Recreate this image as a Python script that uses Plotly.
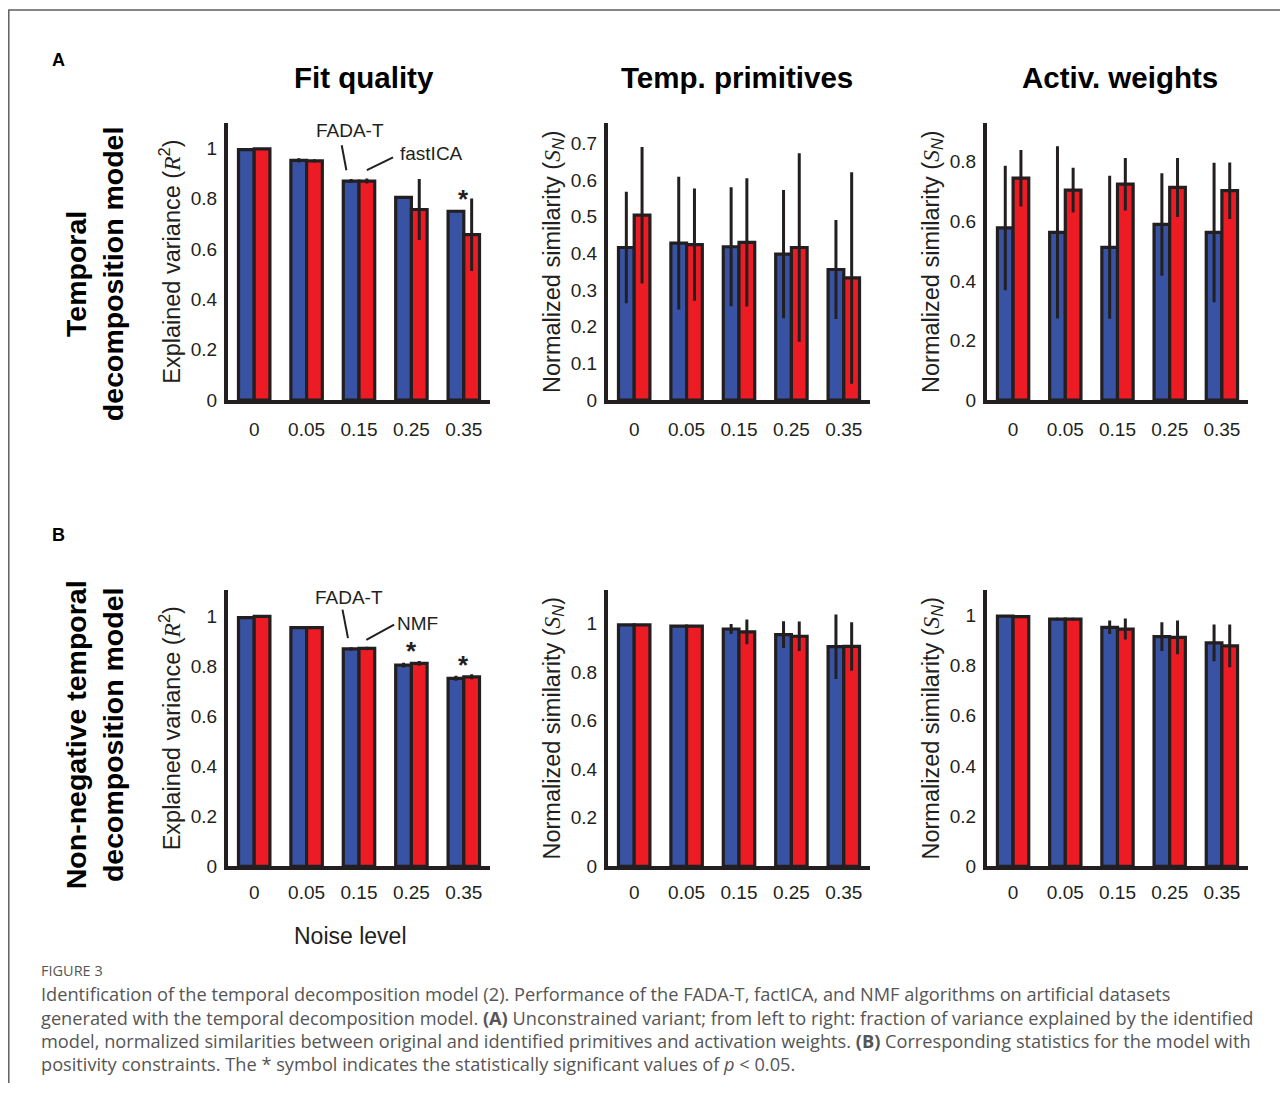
import plotly.graph_objects as go
from plotly.subplots import make_subplots

# ---------------- data ----------------
noise_levels = ["0", "0.05", "0.15", "0.25", "0.35"]

# Row A: unconstrained temporal model (FADA-T vs fastICA)
fada_r2_A = [0.995, 0.952, 0.870, 0.805, 0.750]
fada_r2_A_err = [0.004, 0.008, 0.008, 0.004, 0.004]
ica_r2 = [0.998, 0.950, 0.870, 0.757, 0.657]
ica_r2_err = [0.003, 0.006, 0.010, 0.121, 0.144]

fada_prim_A = [0.416, 0.428, 0.418, 0.398, 0.356]
fada_prim_A_err = [0.152, 0.181, 0.162, 0.175, 0.135]
ica_prim = [0.504, 0.424, 0.430, 0.416, 0.333]
ica_prim_err = [0.186, 0.153, 0.175, 0.257, 0.288]

fada_w_A = [0.578, 0.563, 0.513, 0.590, 0.563]
fada_w_A_err = [0.209, 0.289, 0.240, 0.172, 0.234]
ica_w = [0.745, 0.705, 0.725, 0.714, 0.703]
ica_w_err = [0.095, 0.075, 0.088, 0.099, 0.095]

# Row B: non-negative temporal model (FADA-T vs NMF)
fada_r2_B = [0.995, 0.955, 0.870, 0.805, 0.752]
fada_r2_B_err = [0.003, 0.003, 0.007, 0.010, 0.010]
nmf_r2 = [1.000, 0.955, 0.872, 0.812, 0.758]
nmf_r2_err = [0.003, 0.003, 0.007, 0.010, 0.010]

fada_prim_B = [0.995, 0.990, 0.978, 0.955, 0.905]
fada_prim_B_err = [0.003, 0.004, 0.021, 0.055, 0.133]
nmf_prim = [0.995, 0.990, 0.966, 0.948, 0.906]
nmf_prim_err = [0.003, 0.004, 0.051, 0.061, 0.100]

fada_w_B = [0.997, 0.985, 0.952, 0.915, 0.890]
fada_w_B_err = [0.003, 0.005, 0.027, 0.057, 0.073]
nmf_w = [0.995, 0.985, 0.945, 0.912, 0.878]
nmf_w_err = [0.003, 0.005, 0.042, 0.067, 0.085]

col_titles = ["Fit quality", "Temp. primitives", "Activ. weights"]
row_titles = ["Temporal<br>decomposition model",
              "Non-negative temporal<br>decomposition model"]

# ---------------- styling ----------------
OFF = 8                      # page body margin of the browser
KY = 0.9897                  # vertical scale of the captured page
W, H = 1288 - 2 * OFF, 1086
BLUE = "#3953a4"
RED = "#ed1c24"
INK = "#231f20"
FONT = "Arial, Liberation Sans, sans-serif"

def px(x):
    return (x - OFF) / W

def py(y):
    return 1 - (y / KY - OFF) / H

xpos = list(range(len(noise_levels)))

fig = make_subplots(rows=2, cols=3)

panels = [
    (1, 1, fada_r2_A, fada_r2_A_err, ica_r2, ica_r2_err),
    (1, 2, fada_prim_A, fada_prim_A_err, ica_prim, ica_prim_err),
    (1, 3, fada_w_A, fada_w_A_err, ica_w, ica_w_err),
    (2, 1, fada_r2_B, fada_r2_B_err, nmf_r2, nmf_r2_err),
    (2, 2, fada_prim_B, fada_prim_B_err, nmf_prim, nmf_prim_err),
    (2, 3, fada_w_B, fada_w_B_err, nmf_w, nmf_w_err),
]

for r, c, v1, e1, v2, e2 in panels:
    for vals, errs, color in ((v1, e1, BLUE), (v2, e2, RED)):
        fig.add_trace(go.Bar(
            x=xpos, y=vals,
            marker=dict(color=color, line=dict(color=INK, width=3.2)),
            error_y=dict(type="data", array=errs, color=INK, thickness=3, width=0),
        ), row=r, col=c)

fig.update_layout(barmode="group", bargap=0.4, bargroupgap=0.0)

col_dom = [(228, 490), (608, 870), (987, 1248)]
row_dom = [(123, 400), (590, 866)]
xstandoff = [9, 6]
yranges = [[0, 1.10], [0, 0.755], [0, 0.93], [0, 1.105], [0, 1.138], [0, 1.10]]
ydticks = [0.2, 0.1, 0.2, 0.2, 0.2, 0.2]
r2_title = "Explained variance (<span style='font-family:Liberation Serif, serif'><i>R</i></span><sup>2</sup>)"
sn_title = "Normalized similarity (<span style='font-family:Liberation Serif, serif'><i>S</i></span><sub><i>N</i></sub>)"
ytitles = [r2_title, sn_title, sn_title, r2_title, sn_title, sn_title]

for i in range(6):
    r, c = divmod(i, 3)
    xa = "xaxis" if i == 0 else f"xaxis{i+1}"
    ya = "yaxis" if i == 0 else f"yaxis{i+1}"
    x0, x1 = col_dom[c]
    y0, y1 = row_dom[r]
    fig.layout[xa].update(
        domain=[px(x0), px(x1)], range=[-0.5, 4.5],
        tickmode="array", tickvals=xpos, ticktext=noise_levels,
        showline=True, linewidth=4, linecolor=INK, ticks="",
        showgrid=False, zeroline=False, ticklabelstandoff=xstandoff[r],
        tickfont=dict(family=FONT, size=19, color=INK),
    )
    fig.layout[ya].update(
        domain=[py(y1), py(y0)], range=yranges[i],
        tick0=0, dtick=ydticks[i],
        showline=True, linewidth=4, linecolor=INK, ticks="",
        showgrid=False, zeroline=False, ticklabelstandoff=3,
        tickfont=dict(family=FONT, size=19, color=INK),
        title=dict(text=ytitles[i], font=dict(family=FONT, size=23.5, color=INK),
                   standoff=5),
    )

annotations = []

def ptext(txt, x, y, size, color=INK, angle=0, xanchor="center"):
    annotations.append(dict(x=px(x), y=py(y), xref="paper", yref="paper",
                            xanchor=xanchor, yanchor="middle", text=txt,
                            showarrow=False, textangle=angle,
                            font=dict(family=FONT, size=size, color=color)))

# column titles
for c, t in enumerate(col_titles):
    ptext(f"<b>{t}</b>", [364, 737, 1120][c], 77, 29.5, "black")
# row titles
for r, t in enumerate(row_titles):
    ptext(f"<b>{t}</b>", 94, [274, 735][r], 28.5, "black", angle=-90)
# panel letters
ptext("<b>A</b>", 58, 60, 18, "black")
ptext("<b>B</b>", 58, 535, 18, "black")
ptext("Noise level", 350, 936, 23)

# algorithm labels and significance stars
def lab(txt, x, y, xr, yr, size=19, bold=False):
    annotations.append(dict(x=x, y=y, xref=xr, yref=yr,
                            xanchor="center", yanchor="middle",
                            text=f"<b>{txt}</b>" if bold else txt,
                            showarrow=False,
                            font=dict(family=FONT, size=size, color=INK)))

lab("FADA-T", 1.83, 1.07, "x", "y")
lab("fastICA", 3.39, 0.98, "x", "y")
lab("*", 4.0, 0.80, "x", "y", size=26, bold=True)
lab("FADA-T", 1.80, 1.074, "x4", "y4")
lab("NMF", 3.12, 0.973, "x4", "y4")
lab("*", 3.0, 0.86, "x4", "y4", size=26, bold=True)
lab("*", 4.0, 0.807, "x4", "y4", size=26, bold=True)

shapes = []
def seg(x0, y0, x1, y1, xr, yr):
    shapes.append(dict(type="line", x0=x0, y0=y0, x1=x1, y1=y1, xref=xr, yref=yr,
                       line=dict(color=INK, width=2)))

seg(1.67, 1.012, 1.76, 0.913, "x", "y")
seg(2.65, 0.964, 2.15, 0.913, "x", "y")
seg(1.685, 1.027, 1.79, 0.913, "x4", "y4")
seg(2.67, 0.967, 2.14, 0.906, "x4", "y4")

# figure frame (left + top)
fx = 0.8 / W
shapes.append(dict(type="path", xref="paper", yref="paper",
                   path=f"M {fx},0 L {fx},{py(10)} L 1,{py(10)}",
                   line=dict(color="#5f5f5f", width=1.5)))

# caption
CAP = "Open Sans, Noto Sans, sans-serif"
annotations.append(dict(x=px(39), y=py(970), xref="paper", yref="paper",
                        xanchor="left", yanchor="middle", text="FIGURE 3",
                        showarrow=False,
                        font=dict(family=CAP, size=14.5, color="#555555")))
cap_lines = [
    "Identification of the temporal decomposition model (2). Performance of the FADA-T, factICA, and NMF algorithms on artificial datasets",
    "generated with the temporal decomposition model. <b>(A)</b> Unconstrained variant; from left to right: fraction of variance explained by the identified",
    "model, normalized similarities between original and identified primitives and activation weights. <b>(B)</b> Corresponding statistics for the model with",
    "positivity constraints. The * symbol indicates the statistically significant values of <i>p</i> &lt; 0.05.",
]
for k, line in enumerate(cap_lines):
    annotations.append(dict(x=px(39), y=py([994, 1018, 1041, 1064][k]),
                            xref="paper", yref="paper", xanchor="left",
                            yanchor="middle", text=line, showarrow=False,
                            font=dict(family=CAP, size=18.2, color="#555555")))

fig.update_layout(
    width=W, height=H, margin=dict(l=0, r=0, t=0, b=0),
    paper_bgcolor="white", plot_bgcolor="white", showlegend=False,
    annotations=annotations, shapes=shapes,
)

fig.write_html("out.html")
